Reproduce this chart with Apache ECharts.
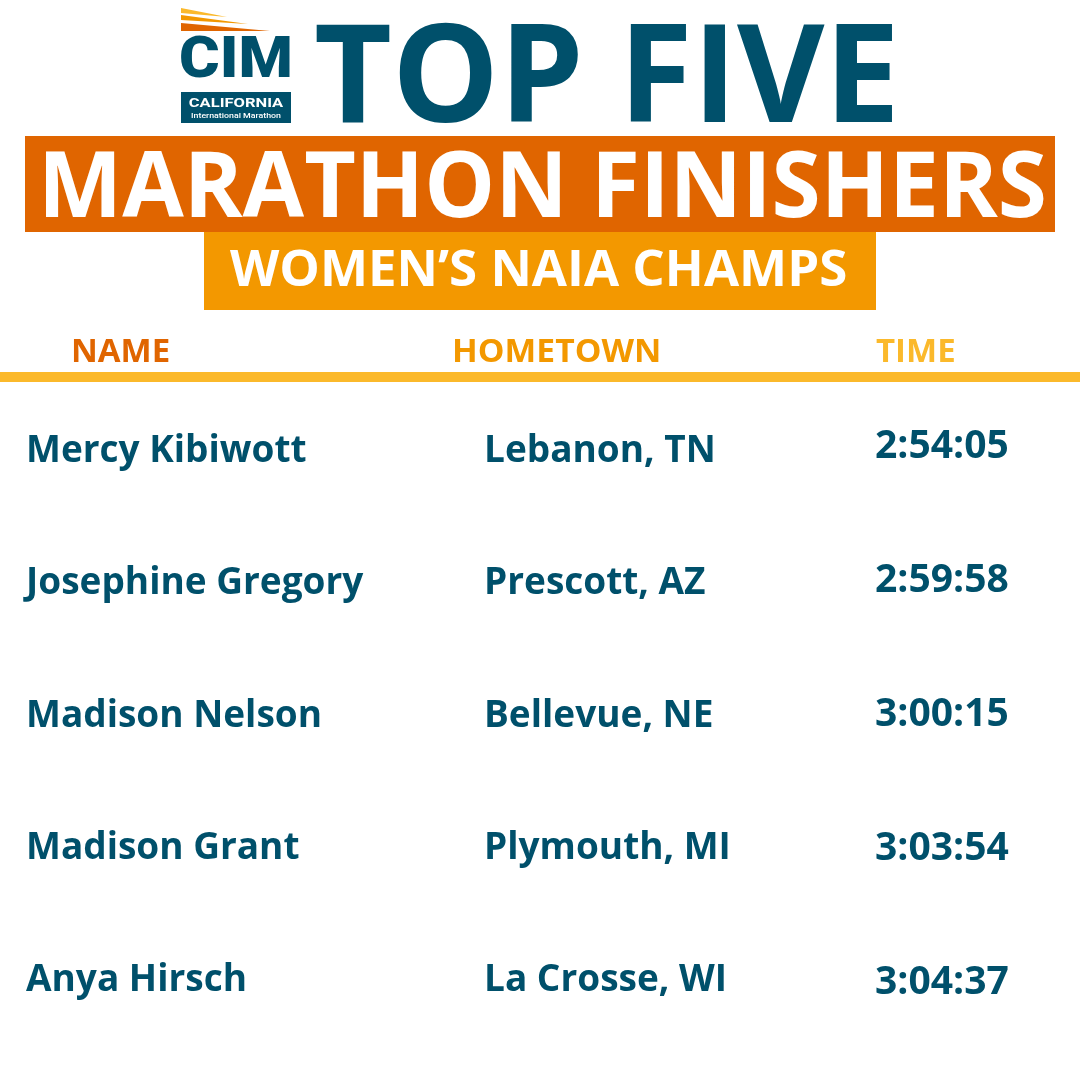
<!DOCTYPE html>
<html>
<head>
<meta charset="utf-8">
<style>html,body{margin:0;padding:0;background:#fff}#chart{width:1080px;height:1080px}</style>
<script src="https://cdn.jsdelivr.net/npm/echarts@6/dist/echarts.min.js"></script>
</head>
<body>
<div id="chart"></div>
<script>
var names = ["Mercy Kibiwott", "Josephine Gregory", "Madison Nelson", "Madison Grant", "Anya Hirsch"];
var hometowns = ["Lebanon, TN", "Prescott, AZ", "Bellevue, NE", "Plymouth, MI", "La Crosse, WI"];
var times = ["2:54:05", "2:59:58", "3:00:15", "3:03:54", "3:04:37"];
var headers = ["NAME", "HOMETOWN", "TIME"];

var NAVY = "#00506B", ORANGE = "#E06500", AMBER = "#F39800", YELLOW = "#FBB92B";
var FONT = '"Open Sans", sans-serif';

// one scatter series per column, rows come from the category axis
function column(values, x, size, axis) {
  return {
    type: "scatter",
    symbolSize: 0,
    silent: true,
    xAxisIndex: axis,
    yAxisIndex: axis,
    itemStyle: { opacity: 1 },
    data: values.map(function (v, i) { return { value: [x, i], label: { formatter: v } }; }),
    label: {
      show: true,
      position: "right",
      distance: 0,
      opacity: 1,
      color: NAVY,
      fontFamily: FONT,
      fontWeight: 700,
      fontSize: size
    }
  };
}

function text(str, x, y, size, fill, scaleX) {
  return {
    type: "text",
    x: x,
    y: y,
    scaleX: scaleX || 1,
    style: {
      text: str,
      fill: fill,
      font: "700 " + size + "px " + FONT,
      textAlign: "left",
      textVerticalAlign: "middle"
    }
  };
}

function logoText(str, x, y, font, fill, scaleX) {
  return {
    type: "text",
    x: x,
    y: y,
    scaleX: scaleX || 1,
    style: { text: str, fill: fill, font: font, textAlign: "center", textVerticalAlign: "middle" }
  };
}

function rect(x, y, w, h, fill) {
  return { type: "rect", shape: { x: x, y: y, width: w, height: h }, style: { fill: fill } };
}

function poly(points, fill) {
  return { type: "polygon", shape: { points: points }, style: { fill: fill } };
}

var chart = echarts.init(document.getElementById("chart"));
chart.setOption({
  animation: false,
  backgroundColor: "#fff",
  // the time column runs on a slightly wider row pitch than the other two
  grid: [
    { left: 0, right: 0, top: 385, height: 662 },
    { left: 0, right: 0, top: 380, height: 670 }
  ],
  xAxis: [
    { type: "value", min: 0, max: 1080, show: false, gridIndex: 0 },
    { type: "value", min: 0, max: 1080, show: false, gridIndex: 1 }
  ],
  yAxis: [
    { type: "category", inverse: true, show: false, data: names, gridIndex: 0 },
    { type: "category", inverse: true, show: false, data: times, gridIndex: 1 }
  ],
  series: [column(names, 26, 37, 0), column(hometowns, 484, 37, 0), column(times, 875, 39, 1)],
  graphic: [
    // logo
    poly([[181, 8], [227, 17], [181, 13]], YELLOW),
    poly([[181, 15], [248, 24], [181, 20]], AMBER),
    poly([[181, 23], [270, 31], [181, 31]], ORANGE),
    logoText("CIM", 236, 62, '900 58px "Roboto", sans-serif', NAVY, 1.07),
    rect(181, 92, 110, 31, NAVY),
    logoText("CALIFORNIA", 236, 104, '700 13px "Roboto", sans-serif', "#fff", 1.27),
    logoText("International Marathon", 236, 116, '500 8px "Roboto", sans-serif', "#fff", 1.1),
    // title banners
    text("TOP FIVE", 314, 83, 136, NAVY, 0.99),
    rect(25, 136, 1030, 96, ORANGE),
    text("MARATHON FINISHERS", 38, 191, 92, "#fff", 0.97),
    rect(204, 232, 672, 78, AMBER),
    text("WOMEN\u2019S NAIA CHAMPS", 230, 271, 51, "#fff"),
    // table header
    text(headers[0], 71, 353, 33, ORANGE),
    text(headers[1], 452, 353, 33, AMBER, 1.02),
    text(headers[2], 876, 353, 33, YELLOW),
    rect(0, 372, 1080, 10, YELLOW)
  ]
});
</script>
</body>
</html>
